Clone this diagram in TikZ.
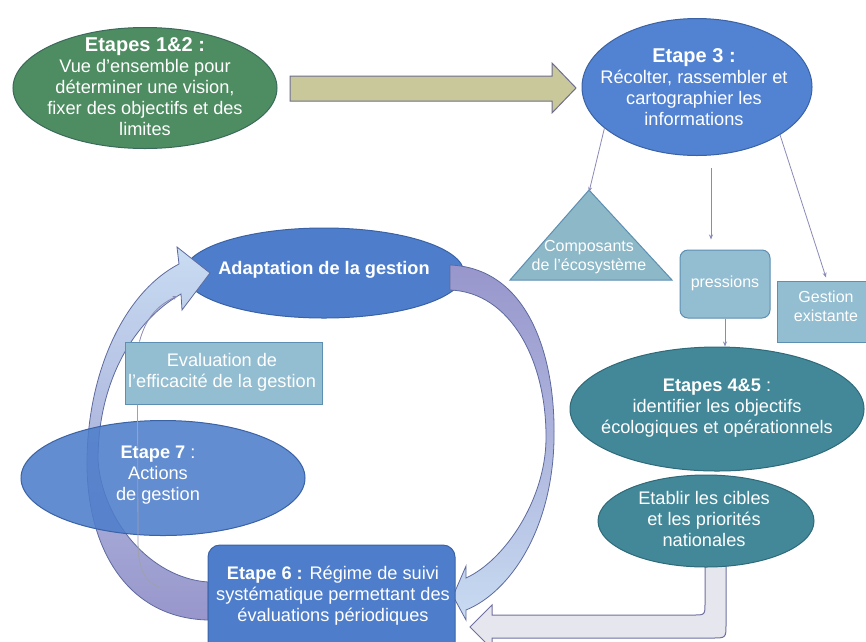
\documentclass[tikz,border=0pt]{standalone}
\usepackage{fontspec}
\setmainfont{Liberation Sans}
\usepackage{xcolor}
\usetikzlibrary{calc,arrows.meta,shapes.geometric}
\definecolor{greenfill}{HTML}{4E8C61}
\definecolor{greenline}{HTML}{3B6A5C}
\definecolor{bluefill}{HTML}{4E7ECB}
\definecolor{bluelight}{HTML}{5282D2}
\definecolor{blueline}{HTML}{3A62A6}
\definecolor{tealfill}{HTML}{428898}
\definecolor{tealline}{HTML}{2E6A7A}
\definecolor{lightfill}{HTML}{93BDD0}
\definecolor{lightline}{HTML}{5D8FB2}
\definecolor{trifill}{HTML}{8CB8C8}
\definecolor{olivefill}{HTML}{C8C89B}
\definecolor{oliveline}{HTML}{6E6E90}
\definecolor{bandpurple}{HTML}{9896CC}
\definecolor{bandblue}{HTML}{C8DCF2}
\definecolor{bandline}{HTML}{5E6A9E}
\definecolor{bentfill}{HTML}{E6E6EE}
\definecolor{bentline}{HTML}{7070A0}
\definecolor{arrowgray}{HTML}{8A8AB8}
\definecolor{linegray}{HTML}{A0A0AE}
\newcommand{\steptitle}[1]{{\fontsize{20}{22}\selectfont\bfseries #1}}
\tikzset{
  greenell/.style={ellipse, draw=greenline, fill=greenfill, line width=1pt, inner sep=0pt},
  blueell/.style={ellipse, draw=blueline, fill=bluefill, line width=1pt, inner sep=0pt},
  tealell/.style={ellipse, draw=tealline, fill=tealfill, line width=1pt, inner sep=0pt},
  lightbox/.style={rectangle, draw=lightline, fill=lightfill, line width=1pt, inner sep=0pt},
  bluebox/.style={rectangle, rounded corners=12pt, draw=blueline, fill=bluefill, line width=1pt, inner sep=0pt},
  lab/.style={text=white, align=center, inner sep=0pt, font=\fontsize{18.2}{21}\selectfont},
  smalllab/.style={lab, font=\fontsize{16}{18.5}\selectfont},
  thinarrow/.style={draw=arrowgray, line width=0.8pt, -{Stealth[length=5pt,width=4pt]}},
  thinline/.style={draw=linegray, line width=0.8pt},
  bigarrow/.style={draw=oliveline, fill=olivefill, line width=1pt},
  bandright/.style={draw=bandline, top color=bandpurple, bottom color=bandblue, middle color=bandpurple!55!bandblue, line width=0.8pt},
  bandleft/.style={draw=bandline, top color=bandblue, bottom color=bandpurple, middle color=bandblue!50!bandpurple, line width=0.8pt},
  bentarrow/.style={draw=bentline, fill=bentfill, line width=1pt},
}
\begin{document}
\begin{tikzpicture}[x=1pt,y=-1pt]
  \useasboundingbox (0,0) rectangle (866,641);
  \clip (0,0) rectangle (866,641);
  \fill[white] (0,0) rectangle (866,641);

  % top row
  \node[greenell, minimum width=264pt, minimum height=121pt] (e12) at (145,88) {};
  \node[blueell, fill=bluelight, minimum width=230pt, minimum height=137pt] (e3) at (697,87) {};
  \draw[bigarrow] (290,76) -- (552,76) -- (552,63) -- (576,88) -- (552,113) -- (552,101) -- (290,101) -- cycle;

  % information
  \draw[draw=lightline, fill=trifill, line width=1pt] (589,190) coordinate (tri) -- (672,280) -- (510,280) -- cycle;
  \node[lightbox, rounded corners=8pt, minimum width=90pt, minimum height=68pt] (press) at (725,284) {};
  \node[lightbox, minimum width=98pt, minimum height=61pt] (gest) at (826,311.5) {};
  \draw[thinarrow] (e3.204) -- ([yshift=-2pt]tri);
  \draw[thinarrow] ([xshift=14pt,yshift=-12pt]e3.south) -- ([xshift=-14pt,yshift=10pt]press.north);
  \draw[thinarrow] (e3.-30) -- ([yshift=3pt]gest.north);
  \draw[thinarrow] (press.south) -- ++(0,28);

  % objectives and targets
  \draw[bentarrow] (705,545) -- (705,603) .. controls (705,615) .. (693,615) -- (492,615) -- (492,605)
    -- (470,627) -- (492,649) -- (492,638) -- (712,638) .. controls (726,638) .. (726,624) -- (726,545) -- cycle;
  \node[tealell, minimum width=294pt, minimum height=124pt] (e45) at (717,409) {};
  \node[tealell, minimum width=216pt, minimum height=92pt] (cib) at (706,521) {};

  % management cycle
  \node[blueell, minimum width=280pt, minimum height=90pt] (adapt) at (324,273) {};
  \shadedraw[bandleft] (208,620) .. controls (125,618) and (86,545) .. (87,460)
    .. controls (88,370) and (125,292) .. (179,264) -- (177,247) -- (210,273) -- (182,310) -- (181,294)
    .. controls (135,320) and (98,380) .. (98,460) .. controls (102,520) and (150,578) .. (208,582) -- cycle;
  \shadedraw[bandright] (450,265) .. controls (525,268) and (556,350) .. (554,440)
    .. controls (552,530) and (510,592) .. (466,610) -- (466,620) -- (453,596) -- (466,566) -- (466,578)
    .. controls (505,560) and (545,500) .. (546,440) .. controls (547,360) and (510,292) .. (450,290) -- cycle;
  \node[lightbox, minimum width=197pt, minimum height=62pt] (eval) at (223.5,373) {};
  \node[blueell, fill opacity=0.88, minimum width=284pt, minimum height=115pt] (e7) at (163,478) {};
  \node[bluebox, minimum width=247pt, minimum height=110pt] (e6) at (331.5,600) {};
  \coordinate (evalfoot) at (162,588);
  \draw[thinline] (evalfoot) .. controls (142,582) and (138,565) .. (138,540) -- ([xshift=13pt]eval.south west);
  \draw[thinarrow] ([xshift=15pt]eval.north west) to[bend left=25] ([xshift=-6pt,yshift=-23pt]adapt.west);

  % texts
  \node[lab] (t12) at (145,86.5) {\steptitle{Etapes 1\&2 :}\\Vue d’ensemble pour\\déterminer une vision,\\fixer des objectifs et des\\limites};
  \node[lab] (t3) at (694,87) {\steptitle{Etape 3 :}\\Récolter, rassembler et\\cartographier les\\informations};
  \node[smalllab] (tcomp) at (589,257) {Composants\\de l’écosystème};
  \node[smalllab] (tpress) at (725,283) {pressions};
  \node[smalllab] (tgest) at (826,306.5) {Gestion\\existante};
  \node[lab] (t45) at (717,408) {\textbf{Etapes 4\&5} :\\identifier les objectifs\\écologiques et opérationnels};
  \node[lab] (tcib) at (704,519) {Etablir les cibles\\et les priorités\\nationales};
  \node[lab] (tadapt) at (324,270) {\textbf{Adaptation de la gestion}};
  \node[lab] (teval) at (222,372.5) {Evaluation de\\l’efficacité de la gestion};
  \node[lab] (t7) at (158,475) {\textbf{Etape 7} :\\Actions\\de gestion};
  \node[lab] (t6) at (333,596) {\textbf{Etape 6 :} Régime de suivi\\systématique permettant des\\évaluations périodiques};
\end{tikzpicture}
\end{document}
